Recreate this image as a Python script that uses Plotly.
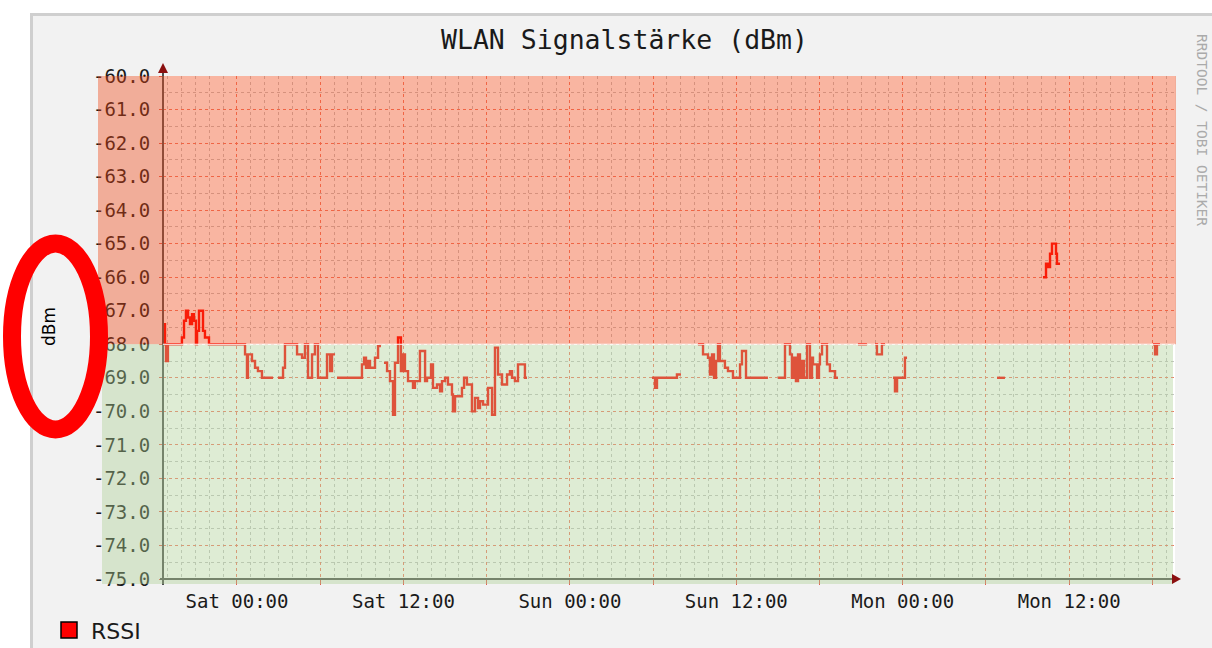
import datetime as dt
import plotly.graph_objects as go

# ---------------- data ----------------
TITLE = "WLAN Signalstärke (dBm)"
Y_TITLE = "dBm"
SERIES_NAME = "RSSI"
WATERMARK = "RRDTOOL / TOBI OETIKER"

BASE = dt.datetime(2016, 1, 2, 0, 0)          # "Sat 00:00"
X_RANGE_HOURS = [-5.335, 67.63]               # hours relative to Sat 00:00
Y_RANGE = [-75.0, -60.0]
THRESHOLD = -68.0

X_TICK_HOURS = [0, 6, 12, 18, 24, 30, 36, 42, 48, 54, 60, 66]
X_TICK_LABELS = ["Sat 00:00", "", "Sat 12:00", "", "Sun 00:00", "",
                 "Sun 12:00", "", "Mon 00:00", "", "Mon 12:00", ""]
Y_TICK_VALUES = [-60, -61, -62, -63, -64, -65, -66, -67, -68, -69, -70,
                 -71, -72, -73, -74, -75]
Y_TICK_LABELS = ["-60.0", "-61.0", "-62.0", "-63.0", "-64.0", "-65.0",
                 "-66.0", "-67.0", "-68.0", "-69.0", "-70.0", "-71.0",
                 "-72.0", "-73.0", "-74.0", "-75.0"]

# RSSI samples (hours relative to Sat 00:00, dBm); None = no data
RSSI_HOURS = [
    -5.34, -5.19, -5.12, -4.98, -3.97, -3.82, -3.68, -3.53, -3.39, -3.24,
    -3.10, -2.96, -2.88, -2.74, -2.45, -2.31, -2.02, 0.58, 0.72, 0.79,
    1.08, 1.30, 1.51, 1.80, 2.60, None,
    2.96, 3.32, 3.46, 4.33, 4.69, 4.90, 5.12, 5.41, 5.62, 5.84,
    6.49, 6.71, 6.85, 7.07, None,
    7.21, 9.01, 9.16, 9.30, 9.45, 9.59, 9.95, 10.17, 10.38, None,
    10.60, 10.82, 11.03, 11.25, 11.39, 11.61, 11.82, 11.97, 12.11, 12.33,
    12.69, 12.83, 13.19, 13.56, 13.70, 13.99, 14.13, 14.42, 14.64, 14.78,
    15.00, 15.21, 15.50, 15.57, 15.72, 16.22, 16.37, 16.58, 16.94, 17.16,
    17.38, 17.52, 17.74, 18.10, 18.39, 18.60, 18.82, 19.11, 19.47, 19.68,
    19.83, 20.04, 20.26, 20.76, 20.91, None,
    29.92, 30.14, 30.28, 31.72, 32.01, None,
    33.24, 33.60, 33.96, 34.10, 34.25, 34.39, 34.54, 34.68, 34.82, 35.18,
    35.40, 35.76, 36.27, 36.41, 36.70, 38.28, None,
    39.01, 39.51, 39.87, 40.01, 40.16, 40.30, 40.45, 40.59, 40.74, 40.88,
    41.10, 41.31, 41.46, 41.53, 41.82, 41.96, 42.03, 42.18, 42.54, 42.75,
    43.12, 43.33, None,
    44.77, 45.42, None,
    46.00, 46.14, 46.50, 46.72, None,
    47.30, 47.44, 47.59, 48.16, 48.31, None,
    54.80, 55.37, None,
    58.11, 58.33, 58.47, 58.62, 58.76, 59.05, 59.12, 59.34, None,
    66.04, 66.19, 66.33, 66.55,
]
RSSI_DBM = [
    -67.4, -68.0, -68.5, -68.0, -67.8, -67.3, -67.0, -67.2, -67.4, -67.1,
    -67.3, -68.0, -67.6, -67.0, -67.6, -67.8, -68.0, -68.3, -69.0, -68.3,
    -68.5, -68.7, -68.8, -69.0, -69.0, None,
    -69.0, -68.7, -68.0, -68.3, -68.4, -68.0, -69.0, -68.3, -68.0, -69.0,
    -68.3, -68.8, -68.3, -68.3, None,
    -69.0, -68.6, -68.4, -68.7, -68.5, -68.7, -68.4, -68.05, -68.05, None,
    -68.55, -68.8, -69.1, -70.1, -68.55, -67.8, -68.8, -68.3, -68.8, -69.1,
    -69.3, -69.1, -68.2, -69.1, -69.0, -68.6, -69.3, -69.2, -69.4, -69.1,
    -69.0, -69.2, -69.5, -70.0, -69.55, -69.3, -69.0, -69.2, -70.0, -69.6,
    -69.9, -69.7, -69.8, -69.3, -70.1, -68.1, -68.9, -69.2, -68.9, -68.8,
    -69.0, -69.1, -68.6, -69.0, -69.0, None,
    -69.0, -69.3, -69.0, -68.9, -68.9, None,
    -68.0, -68.3, -68.4, -68.9, -68.3, -69.0, -68.5, -68.0, -68.5, -68.7,
    -68.8, -69.0, -68.6, -68.2, -69.0, -69.0, None,
    -69.0, -68.0, -68.3, -69.0, -68.4, -69.1, -68.3, -69.0, -68.5, -69.0,
    -68.0, -69.0, -68.4, -68.6, -69.0, -68.6, -68.3, -68.0, -68.6, -68.8,
    -69.0, -69.0, None,
    -68.0, -68.0, None,
    -68.0, -68.3, -68.0, -68.0, None,
    -69.0, -69.4, -69.0, -68.4, -68.4, None,
    -69.0, -69.0, None,
    -66.0, -65.6, -65.7, -65.3, -65.0, -65.3, -65.6, -65.6, None,
    -68.0, -68.3, -68.0, -68.0,
]

# ---------------- layout geometry ----------------
W, H = 1212, 648
L, R, T, B = 163, 1175, 76, 579
PW, PH = R - L, B - T


def px(x):
    return (x - L) / PW


def py(y):
    return (B - y) / PH


def t(h):
    return None if h is None else BASE + dt.timedelta(hours=h)


MONO = "DejaVu Sans Mono"
SANS = "DejaVu Sans"

fig = go.Figure()
fig.add_trace(go.Scatter(
    x=[t(h) for h in RSSI_HOURS], y=RSSI_DBM, mode="lines",
    line=dict(color="#ff0000", width=2.4, shape="hv"),
    connectgaps=False, name=SERIES_NAME, showlegend=False,
))

RED_OVL = "rgba(240,70,20,0.40)"
GREEN_OVL = "rgba(172,207,147,0.40)"
AXIS_COL = "#505050"
ARROW_COL = "#8b1010"
THR_FRAC = (THRESHOLD - Y_RANGE[0]) / (Y_RANGE[1] - Y_RANGE[0])

shapes = [
    # background panel
    dict(type="rect", xref="paper", yref="paper", layer="below",
         x0=px(31.5), x1=px(1240), y0=py(665), y1=py(14.5),
         fillcolor="#f2f2f2", line=dict(color="#cfcfcf", width=3)),
    # canvas
    dict(type="rect", xref="paper", yref="paper", layer="below",
         x0=0, x1=1, y0=0, y1=1, fillcolor="#ffffff", line=dict(width=0)),
    # axis lines
    dict(type="line", xref="paper", yref="paper", layer="above",
         x0=0, x1=0, y0=py(585), y1=py(68), line=dict(color=AXIS_COL, width=2)),
    dict(type="line", xref="paper", yref="paper", layer="above",
         x0=px(160), x1=px(1174), y0=0, y1=0, line=dict(color=AXIS_COL, width=2)),
    # threshold areas
    dict(type="rect", xref="paper", yref="y", layer="above",
         x0=px(98), x1=0, y0=THRESHOLD, y1=Y_RANGE[1],
         fillcolor=RED_OVL, line=dict(width=0)),
    dict(type="rect", xref="paper", yref="y", layer="above",
         x0=0, x1=px(1176), y0=THRESHOLD, y1=Y_RANGE[1],
         fillcolor=RED_OVL, line=dict(width=0)),
    dict(type="rect", xref="paper", yref="paper", layer="above",
         x0=px(102), x1=0, y0=py(584), y1=THR_FRAC,
         fillcolor=GREEN_OVL, line=dict(width=0)),
    dict(type="rect", xref="paper", yref="paper", layer="above",
         x0=0, x1=px(1173), y0=py(584), y1=THR_FRAC,
         fillcolor=GREEN_OVL, line=dict(width=0)),
    dict(type="line", xref="paper", yref="y", layer="above",
         x0=0, x1=px(1175), y0=THRESHOLD, y1=THRESHOLD,
         line=dict(color="#ffffff", width=1.2)),
    # arrows
    dict(type="path", xref="paper", yref="paper", layer="above",
         path=f"M {px(158)},{py(73)} L {px(168)},{py(73)} L {px(163)},{py(63)} Z",
         fillcolor=ARROW_COL, line=dict(width=0)),
    dict(type="path", xref="paper", yref="paper", layer="above",
         path=f"M {px(1172)},{py(574)} L {px(1172)},{py(584)} L {px(1181)},{py(579)} Z",
         fillcolor=ARROW_COL, line=dict(width=0)),
    # legend swatch
    dict(type="rect", xref="paper", yref="paper", layer="above",
         x0=px(61), x1=px(77), y0=py(638), y1=py(622),
         fillcolor="#ff0000", line=dict(color="#000000", width=1.5)),
    # red ellipse annotation
    dict(type="circle", xref="paper", yref="paper", layer="above",
         x0=px(12), x1=px(99), y0=py(429.5), y1=py(243.5),
         fillcolor="rgba(0,0,0,0)", line=dict(color="#ff0000", width=18)),
]

annotations = [
    dict(text=TITLE, xref="paper", yref="paper", x=px(624), y=py(40),
         xanchor="center", yanchor="middle", showarrow=False,
         font=dict(family=MONO, size=26.5, color="#1a1a1a")),
    dict(text=Y_TITLE, xref="paper", yref="paper", x=px(49), y=py(327),
         xanchor="center", yanchor="middle", showarrow=False, textangle=-90,
         font=dict(family=SANS, size=17, color="#000000")),
    dict(text=SERIES_NAME, xref="paper", yref="paper", x=px(89), y=py(631),
         xanchor="left", yanchor="middle", showarrow=False,
         font=dict(family=SANS, size=22, color="#1a1a1a")),
    dict(text=WATERMARK, xref="paper", yref="paper", x=px(1202), y=py(130),
         xanchor="center", yanchor="middle", showarrow=False, textangle=90,
         font=dict(family=MONO, size=14.5, color="#aaaaaa")),
]

fig.update_layout(
    width=W, height=H,
    margin=dict(l=L, r=W - R, t=T, b=H - B, pad=0),
    paper_bgcolor="#ffffff", plot_bgcolor="rgba(0,0,0,0)",
    showlegend=False, shapes=shapes, annotations=annotations,
)
fig.update_xaxes(
    type="date", range=[t(X_RANGE_HOURS[0]), t(X_RANGE_HOURS[1])],
    tickmode="array", tickvals=[t(h) for h in X_TICK_HOURS], ticktext=X_TICK_LABELS,
    showgrid=True, gridcolor="#f07a66", gridwidth=1, griddash="dot",
    ticks="outside", ticklen=5, tickcolor="#e06050", tickwidth=1,
    showline=False, zeroline=False,
    tickfont=dict(family=MONO, size=19, color="#1a1a1a"),
    minor=dict(tickmode="linear", tick0=t(0), dtick=3600000, showgrid=True,
               gridcolor="#c4c4c4", gridwidth=1, griddash="dot", ticks=""),
)
fig.update_yaxes(
    range=Y_RANGE, tickmode="array", tickvals=Y_TICK_VALUES, ticktext=Y_TICK_LABELS,
    showgrid=True, gridcolor="#f07a66", gridwidth=1, griddash="dot",
    ticks="outside", ticklen=3, tickcolor="#e06050", tickwidth=1,
    showline=False, zeroline=False, ticklabelstandoff=5,
    tickfont=dict(family=MONO, size=19, color="#1a1a1a"),
    minor=dict(tickmode="linear", tick0=-60, dtick=0.5, showgrid=True,
               gridcolor="#c4c4c4", gridwidth=1, griddash="dot", ticks=""),
)

fig.write_html(
    "out.html",
    config={"displayModeBar": False},
    post_script="document.body.style.margin='0';document.body.style.overflow='hidden';",
)
